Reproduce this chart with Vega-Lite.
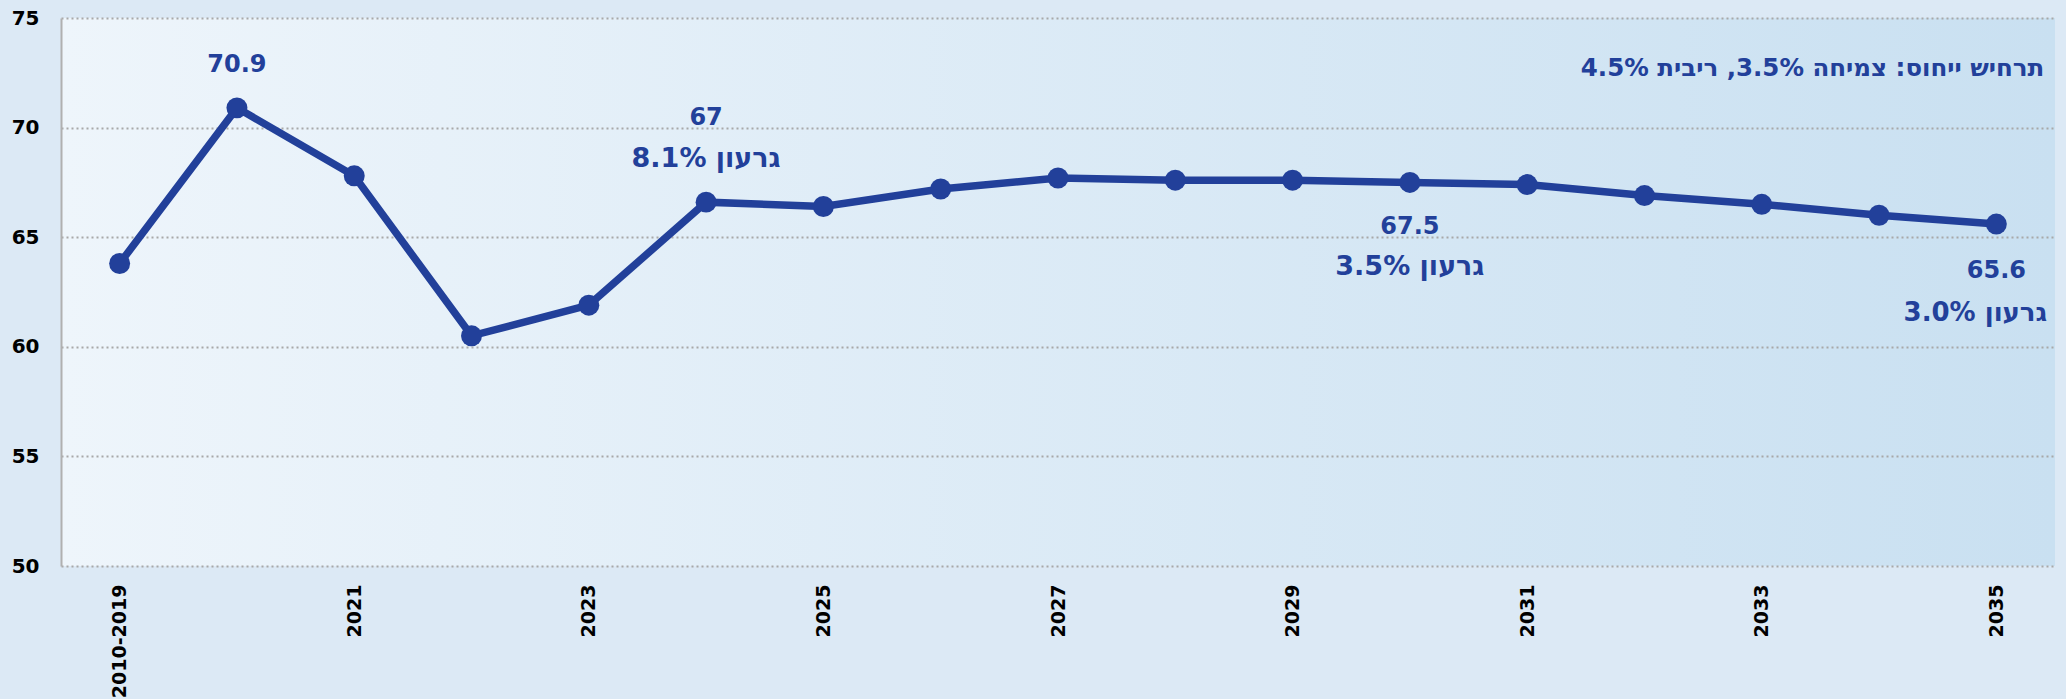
{
  "$schema": "https://vega.github.io/schema/vega-lite/v6.json",
  "width": 1994,
  "height": 548,
  "autosize": {"type": "none"},
  "padding": {"left": 61, "top": 18, "right": 11, "bottom": 133},
  "background": "#dce9f5",
  "config": {
    "view": {
      "stroke": null,
      "fill": {
        "gradient": "linear",
        "x1": 0, "y1": 0, "x2": 1, "y2": 0,
        "stops": [
          {"offset": 0, "color": "#eef5fb"},
          {"offset": 1, "color": "#c9e0f1"}
        ]
      }
    }
  },
  "datasets": {
    "series": [
      {"cat": "2010-2019", "val": 63.8},
      {"cat": "2020", "val": 70.9},
      {"cat": "2021", "val": 67.8},
      {"cat": "2022", "val": 60.5},
      {"cat": "2023", "val": 61.9},
      {"cat": "2024", "val": 66.6},
      {"cat": "2025", "val": 66.4},
      {"cat": "2026", "val": 67.2},
      {"cat": "2027", "val": 67.7},
      {"cat": "2028", "val": 67.6},
      {"cat": "2029", "val": 67.6},
      {"cat": "2030", "val": 67.5},
      {"cat": "2031", "val": 67.4},
      {"cat": "2032", "val": 66.9},
      {"cat": "2033", "val": 66.5},
      {"cat": "2034", "val": 66.0},
      {"cat": "2035", "val": 65.6}
    ],
    "numbers": [
      {"cat": "2020", "val": 72.86, "label": "70.9"},
      {"cat": "2024", "val": 70.45, "label": "67"},
      {"cat": "2030", "val": 65.45, "label": "67.5"},
      {"cat": "2035", "val": 63.46, "label": "65.6"}
    ],
    "deficits": [
      {"cat": "2024", "val": 68.57, "label": "גרעון 8.1%"},
      {"cat": "2030", "val": 63.62, "label": "גרעון 3.5%"}
    ],
    "deficitRight": [
      {"cat": "2035", "val": 61.55, "label": "גרעון 3.0%"}
    ],
    "heading": [
      {"cat": "2035", "val": 72.67, "label": "תרחיש ייחוס: צמיחה 3.5%, ריבית 4.5%"}
    ]
  },
  "layer": [
    {
      "data": {"name": "series"},
      "mark": {"type": "line", "color": "#22409A", "strokeWidth": 7.5},
      "encoding": {
        "x": {
          "field": "cat", "type": "nominal", "sort": null,
          "scale": {"type": "point", "padding": 0.5},
          "axis": {
            "title": null,
            "values": ["2010-2019", "2021", "2023", "2025", "2027", "2029", "2031", "2033", "2035"],
            "labelAngle": -90,
            "labelFont": "DejaVu Sans",
            "labelFontWeight": "bold",
            "labelFontSize": 19,
            "labelColor": "#000000",
            "labelPadding": 18,
            "ticks": false,
            "tickSize": 0,
            "domain": false,
            "grid": false
          }
        },
        "y": {
          "field": "val", "type": "quantitative",
          "scale": {"domain": [50, 75], "nice": false, "zero": false},
          "axis": {
            "title": null,
            "values": [50, 55, 60, 65, 70, 75],
            "labelFont": "DejaVu Sans",
            "labelFontWeight": "bold",
            "labelFontSize": 20,
            "labelColor": "#000000",
            "labelPadding": 22,
            "ticks": false,
            "tickSize": 0,
            "domain": true,
            "domainColor": "#b0b0b0",
            "domainWidth": 2,
            "grid": true,
            "gridColor": "#a8a8a8",
            "gridWidth": 2,
            "gridDash": [2, 3]
          }
        }
      }
    },
    {
      "data": {"name": "series"},
      "mark": {"type": "point", "filled": true, "opacity": 1, "color": "#22409A", "size": 440},
      "encoding": {
        "x": {"field": "cat", "type": "nominal", "sort": null},
        "y": {"field": "val", "type": "quantitative"}
      }
    },
    {
      "data": {"name": "numbers"},
      "mark": {"type": "text", "font": "DejaVu Sans", "fontWeight": "bold", "fontSize": 24, "color": "#22409A", "align": "center", "baseline": "middle"},
      "encoding": {
        "x": {"field": "cat", "type": "nominal", "sort": null},
        "y": {"field": "val", "type": "quantitative"},
        "text": {"field": "label"}
      }
    },
    {
      "data": {"name": "deficits"},
      "mark": {"type": "text", "font": "DejaVu Sans", "fontWeight": "bold", "fontSize": 27, "color": "#22409A", "align": "center", "baseline": "middle"},
      "encoding": {
        "x": {"field": "cat", "type": "nominal", "sort": null},
        "y": {"field": "val", "type": "quantitative"},
        "text": {"field": "label"}
      }
    },
    {
      "data": {"name": "deficitRight"},
      "mark": {"type": "text", "font": "DejaVu Sans", "fontWeight": "bold", "fontSize": 26, "color": "#22409A", "align": "center", "baseline": "middle", "dx": -21},
      "encoding": {
        "x": {"field": "cat", "type": "nominal", "sort": null},
        "y": {"field": "val", "type": "quantitative"},
        "text": {"field": "label"}
      }
    },
    {
      "data": {"name": "heading"},
      "mark": {"type": "text", "font": "DejaVu Sans", "fontWeight": "bold", "fontSize": 24.5, "color": "#22409A", "align": "right", "baseline": "middle", "dx": 48},
      "encoding": {
        "x": {"field": "cat", "type": "nominal", "sort": null},
        "y": {"field": "val", "type": "quantitative"},
        "text": {"field": "label"}
      }
    }
  ]
}
